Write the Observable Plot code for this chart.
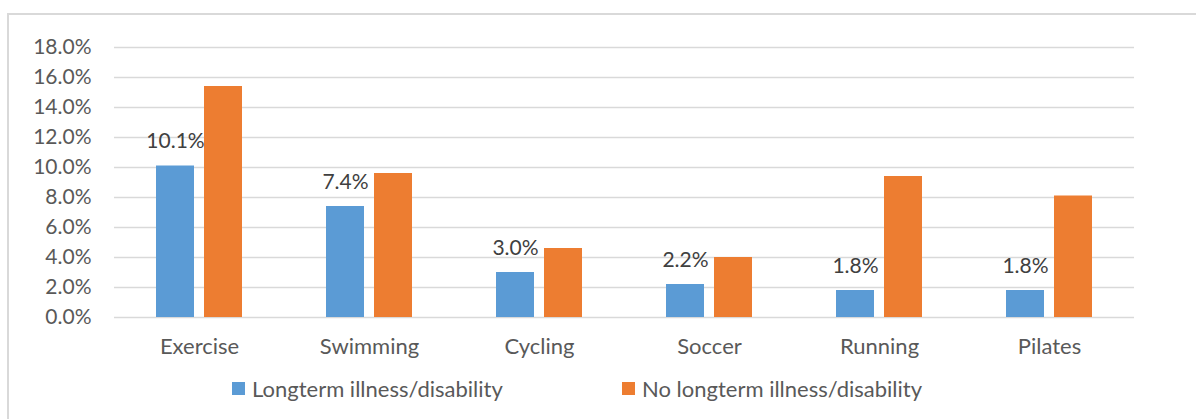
<!DOCTYPE html>
<html>
<head>
<meta charset="utf-8">
<script src="https://cdn.jsdelivr.net/npm/d3@7"></script>
<script src="https://cdn.jsdelivr.net/npm/@observablehq/plot@0.6"></script>
<style>
  html, body { margin: 0; padding: 0; background: #fff; }
  body { position: relative; width: 1196px; height: 419px; overflow: hidden; font-family: Lato, "Open Sans", sans-serif; }
  #frame { position: absolute; left: 7px; top: 13px; right: -10px; bottom: -10px;
           border-left: 2px solid #d9d9d9; border-top: 2px solid #d9d9d9; }
  #chart { position: relative; }
  #legend { position: relative; height: 40px; font-size: 22px; color: #595959; }
  .item { position: absolute; top: 10px; display: flex; align-items: center; white-space: nowrap; }
  .sw { width: 13px; height: 13px; margin-right: 7px; }
</style>
</head>
<body>
<div id="frame"></div>
<div id="chart"></div>
<div id="legend"></div>
<script>
const categories = ["Exercise", "Swimming", "Cycling", "Soccer", "Running", "Pilates"];
const series = ["Longterm illness/disability", "No longterm illness/disability"];
const longterm = [10.1, 7.4, 3.0, 2.2, 1.8, 1.8];
const noLongterm = [15.4, 9.6, 4.6, 4.0, 9.4, 8.1];
const yTicks = [0, 2, 4, 6, 8, 10, 12, 14, 16, 18];
const colors = ["#5b9bd5", "#ed7d31"];

const data = [];
categories.forEach((c, i) => {
  data.push({activity: c, group: series[0], value: longterm[i]});
  data.push({activity: c, group: series[1], value: noLongterm[i]});
});
const labelData = data.filter(d => d.group === series[0]);

const chart = Plot.plot({
  width: 1196,
  height: 365,
  marginLeft: 113,
  marginRight: 61,
  marginTop: 47,
  marginBottom: 48,
  style: {fontFamily: "Lato, 'Open Sans', sans-serif", fontSize: "21px", color: "#595959", background: "transparent"},
  fx: {domain: categories, padding: 0, label: null, tickSize: 0, tickPadding: 21},
  x: {domain: series, axis: null, paddingInner: 0.2165, paddingOuter: 0.864},
  y: {domain: [0, 18], ticks: yTicks, tickFormat: d => d.toFixed(1) + "%", tickSize: 0, tickPadding: 23, label: null},
  color: {domain: series, range: colors},
  marks: [
    Plot.ruleY(yTicks, {stroke: "#d9d9d9", strokeWidth: 1.5}),
    Plot.barY(data, {fx: "activity", x: "group", y: "value", fill: "group"}),
    Plot.text(labelData, {fx: "activity", x: "group", y: "value", text: d => d.value.toFixed(1) + "%",
      lineAnchor: "bottom", dy: -18, fill: "#404040", fontSize: 21})
  ]
});
chart.querySelectorAll("g[aria-label='fx-axis tick label'] text, g[aria-label='fx-axis'] text").forEach(t => t.setAttribute("font-size", "22"));
document.getElementById("chart").appendChild(chart);

const legend = document.getElementById("legend");
const lefts = [232, 622];
series.forEach((s, i) => {
  const item = document.createElement("div");
  item.className = "item";
  item.style.left = lefts[i] + "px";
  const sw = document.createElement("span");
  sw.className = "sw";
  sw.style.background = colors[i];
  const t = document.createElement("span");
  t.textContent = s;
  item.appendChild(sw);
  item.appendChild(t);
  legend.appendChild(item);
});
</script>
</body>
</html>
